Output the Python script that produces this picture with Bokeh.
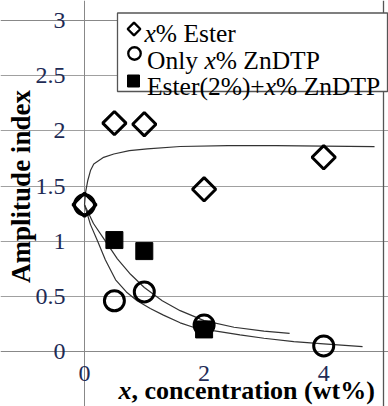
import math
from bokeh.plotting import figure
from bokeh.models import Range1d, Label, Grid, FixedTicker
from bokeh.core.properties import value
from bokeh.embed import file_html
from bokeh.resources import INLINE

# ---------------- data ----------------
ester_x = [0, 0.5, 1, 2, 4]
ester_y = [1.33, 2.07, 2.06, 1.47, 1.76]
zndtp_x = [0, 0.5, 1, 2, 4]
zndtp_y = [1.33, 0.46, 0.54, 0.24, 0.05]
mix_x = [0.5, 1, 2]
mix_y = [1.01, 0.91, 0.20]

# trend lines
ester_fit_x = [0, 0.02, 0.055, 0.1, 0.155, 0.32, 0.49, 0.75, 1.05, 1.6, 2.4, 3.2, 4.0, 4.85]
ester_fit_y = [1.33, 1.45, 1.55, 1.64, 1.70, 1.76, 1.79, 1.82, 1.837, 1.858, 1.866, 1.866, 1.862, 1.856]
mix_fit_x = [0, 0.15, 0.35, 0.55, 0.77, 1.0, 1.3, 1.6, 2.0, 2.5, 3.0, 3.43]
mix_fit_y = [1.33, 1.16, 1.00, 0.84, 0.70, 0.58, 0.46, 0.37, 0.28, 0.22, 0.185, 0.165]
zn_fit_x = [0, 0.1, 0.22, 0.35, 0.52, 0.7, 0.88, 1.1, 1.32, 1.6, 1.82, 2.15, 2.6, 3.0, 3.5, 4.0, 4.65]
zn_fit_y = [1.33, 1.15, 1.00, 0.83, 0.65, 0.54, 0.46, 0.39, 0.33, 0.26, 0.22, 0.19, 0.15, 0.12, 0.09, 0.07, 0.045]

y_ticks = [0, 0.5, 1, 1.5, 2, 2.5, 3]
y_tick_labels = ["0", "0.5", "1", "1.5", "2", "2.5", "3"]
x_ticks = [0, 2, 4]
x_tick_labels = ["0", "2", "4"]
x_axis_min, x_axis_max = 0, 5
y_axis_min, y_axis_max = 0, 3

legend_labels = [["", "x", "% Ester"], ["Only ", "x", "% ZnDTP"], ["Ester(2%)+", "x", "% ZnDTP"]]
y_title = "Amplitude index"
x_title = ["x", ", concentration (wt%)"]

# ---------------- geometry (pixels) ----------------
W, H = 388, 406
X0PX, Y0PX = 84.0, 351.0          # pixel position of data (0, 0)
XPX = (383.0 - 84.0) / 5.0        # px per x unit
YPX = (351.0 - 20.0) / 3.0        # px per y unit


def dx(px):
    return (px - X0PX) / XPX


def dy(py):
    return (Y0PX - py) / YPX


FONT = "Liberation Serif"
TICK_COLOR = "#1e2b55"

# the frame covers the whole canvas; all guides are drawn inside it
p = figure(width=W, height=H,
           x_range=Range1d(dx(0), dx(W)), y_range=Range1d(dy(H), dy(0)),
           x_axis_location=None, y_axis_location=None,
           min_border=0, min_border_left=0, min_border_right=0,
           min_border_top=0, min_border_bottom=0,
           output_backend="svg", toolbar_location=None)
p.outline_line_color = None
p.background_fill_color = "white"
p.border_fill_color = "white"
for g in p.grid:
    g.visible = False

# grid lines and plot-area border
p.add_layout(Grid(dimension=1, ticker=FixedTicker(ticks=y_ticks[1:-1]),
                  bounds=(x_axis_min, x_axis_max), grid_line_color="#a0a0a0", grid_line_width=1))
p.add_layout(Grid(dimension=1, ticker=FixedTicker(ticks=[y_axis_min, y_axis_max]),
                  bounds=(x_axis_min, x_axis_max), grid_line_color="#888888", grid_line_width=1))
p.add_layout(Grid(dimension=0, ticker=FixedTicker(ticks=[x_axis_min]),
                  bounds=(y_axis_min, y_axis_max), grid_line_color="#888888", grid_line_width=1))
p.add_layout(Grid(dimension=0, ticker=FixedTicker(ticks=[x_axis_max]),
                  bounds=(y_axis_min, y_axis_max), grid_line_color="#555555", grid_line_width=1.3))

# tick labels, placed through the data scales
p.text(x=[x_axis_min] * len(y_ticks), y=y_ticks, text=y_tick_labels, x_offset=-19,
       text_align="right", text_baseline="middle", text_font=value(FONT),
       text_font_size=value("24px"), text_color=TICK_COLOR)
p.text(x=x_ticks, y=[y_axis_min] * len(x_ticks), text=x_tick_labels, y_offset=22,
       text_align="center", text_baseline="middle", text_font=value(FONT),
       text_font_size=value("24px"), text_color=TICK_COLOR)

# trend lines
for fx, fy in ((ester_fit_x, ester_fit_y), (mix_fit_x, mix_fit_y), (zn_fit_x, zn_fit_y)):
    p.line(fx, fy, line_color="#333333", line_width=1.2)

# data markers
p.scatter(ester_x, ester_y, marker="square", angle=math.pi / 4, size=16.5,
          fill_color=None, line_color="black", line_width=3)
p.scatter(zndtp_x, zndtp_y, marker="circle", size=20,
          fill_color=None, line_color="black", line_width=3)
p.scatter(mix_x, mix_y, marker="square", size=17,
          fill_color="black", line_color="black", line_width=1)

# legend box
p.quad(left=[dx(117)], right=[dx(387)], top=[dy(12.5)], bottom=[dy(91)],
       fill_color="white", line_color="#555555", line_width=1.3)
p.scatter([dx(133.5)], [dy(28.5)], marker="square", angle=math.pi / 4, size=9,
          fill_color=None, line_color="black", line_width=2.3)
p.scatter([dx(134)], [dy(53)], marker="circle", size=12.5,
          fill_color=None, line_color="black", line_width=2.3)
p.scatter([dx(133)], [dy(80.5)], marker="square", size=12,
          fill_color="black", line_color="black", line_width=1)

LEG_PX = 25.5
LEG_SIZE = "%.1fpx" % LEG_PX
ITALIC_X_W = 0.444 * LEG_PX
legend_rows = [(144.0, 32.5), (146.5, 59.5), (146.5, 86.0)]
lead_widths = [0.0, 2.25 * LEG_PX, 4.618 * LEG_PX]
for (pre, xi, post), (x0, yb), lw in zip(legend_labels, legend_rows, lead_widths):
    if pre:
        p.add_layout(Label(x=dx(x0), y=dy(yb), text=pre, text_font=FONT, text_font_size=LEG_SIZE,
                           text_baseline="alphabetic", text_align="left", text_color="black"))
    p.add_layout(Label(x=dx(x0 + lw), y=dy(yb), text=xi, text_font=FONT, text_font_size=LEG_SIZE,
                       text_font_style="italic", text_baseline="alphabetic", text_align="left",
                       text_color="black"))
    p.add_layout(Label(x=dx(x0 + lw + ITALIC_X_W), y=dy(yb), text=post, text_font=FONT,
                       text_font_size=LEG_SIZE, text_baseline="alphabetic", text_align="left",
                       text_color="black"))

# axis titles
p.add_layout(Label(x=dx(20), y=dy(186), text=y_title, angle=math.pi / 2, text_font=FONT,
                   text_font_size="27px", text_font_style="bold", text_align="center",
                   text_baseline="middle", text_color="black"))
XT_PX = 26.0
XT_BASE = 390.0
p.add_layout(Label(x=dx(118), y=dy(XT_BASE), text=x_title[0], text_font=FONT,
                   text_font_size="%.1fpx" % XT_PX, text_font_style="bold italic",
                   text_align="left", text_baseline="alphabetic", text_color="black"))
p.add_layout(Label(x=dx(118 + 0.5 * XT_PX), y=dy(XT_BASE), text=x_title[1], text_font=FONT,
                   text_font_size="%.1fpx" % XT_PX, text_font_style="bold", text_align="left",
                   text_baseline="alphabetic", text_color="black"))

open("out.html", "w").write(file_html(p, INLINE))
